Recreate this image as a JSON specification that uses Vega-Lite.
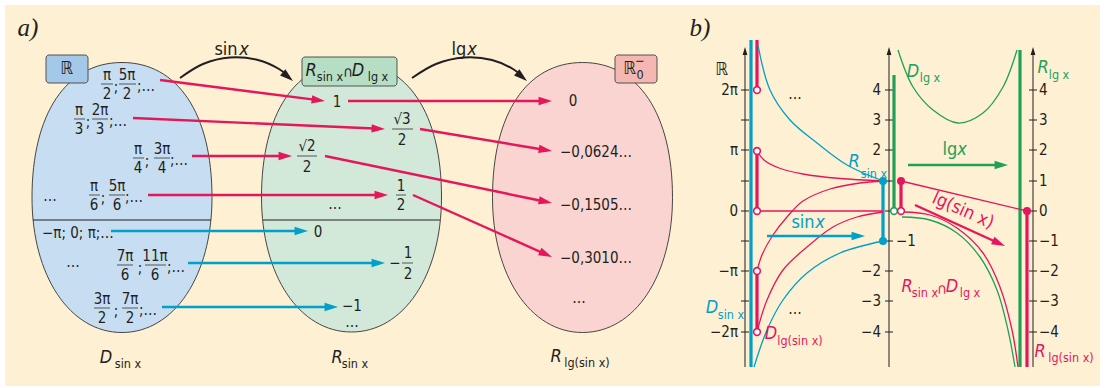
{
"$schema":"https://vega.github.io/schema/vega-lite/v6.json",
"width":1105,"height":388,"padding":0,
"autosize":{"type":"fit","contains":"padding"},
"background":"#ffffff",
"config":{"view":{"stroke":null}},
"datasets":{
"bg":[{"x":5,"y":5,"x2":1100,"y2":386}],
"ell":[{"x":122,"y":197.5,"k":"e1"},{"x":351.5,"y":197,"k":"e2"},{"x":582.5,"y":197.5,"k":"e3"}],
"box":[{"x":46,"y":55,"x2":88,"y2":83,"k":"b1"},{"x":302,"y":57,"x2":397,"y2":86,"k":"b2"},{"x":615,"y":55,"x2":657,"y2":83,"k":"b3"}],
"ink":[{"x":33,"y":220,"x2":211,"y2":220},{"x":263,"y":220,"x2":440,"y2":220},
{"x":745,"y":52,"x2":745,"y2":367},{"x":889,"y":52,"x2":889,"y2":367},{"x":1033,"y":52,"x2":1033,"y2":367},
{"x":741,"y":90,"x2":749,"y2":90},{"x":741,"y":120,"x2":749,"y2":120},{"x":741,"y":150,"x2":749,"y2":150},{"x":741,"y":181,"x2":749,"y2":181},{"x":741,"y":211,"x2":749,"y2":211},{"x":741,"y":241,"x2":749,"y2":241},{"x":741,"y":271,"x2":749,"y2":271},{"x":741,"y":301,"x2":749,"y2":301},{"x":741,"y":332,"x2":749,"y2":332},
{"x":885,"y":90,"x2":893,"y2":90},{"x":885,"y":120,"x2":893,"y2":120},{"x":885,"y":150,"x2":893,"y2":150},{"x":885,"y":181,"x2":893,"y2":181},{"x":885,"y":211,"x2":893,"y2":211},{"x":885,"y":241,"x2":893,"y2":241},{"x":885,"y":271,"x2":893,"y2":271},{"x":885,"y":301,"x2":893,"y2":301},{"x":885,"y":332,"x2":893,"y2":332},
{"x":1029,"y":90,"x2":1037,"y2":90},{"x":1029,"y":120,"x2":1037,"y2":120},{"x":1029,"y":150,"x2":1037,"y2":150},{"x":1029,"y":181,"x2":1037,"y2":181},{"x":1029,"y":211,"x2":1037,"y2":211},{"x":1029,"y":241,"x2":1037,"y2":241},{"x":1029,"y":271,"x2":1037,"y2":271},{"x":1029,"y":301,"x2":1037,"y2":301},{"x":1029,"y":332,"x2":1037,"y2":332}],
"fb":[{"x":101,"x2":113,"y":84},{"x":119,"x2":136,"y":84},{"x":74,"x2":85,"y":119},{"x":92,"x2":108,"y":119},{"x":133,"x2":144,"y":158},{"x":154,"x2":170,"y":158},{"x":89,"x2":100,"y":195},{"x":109,"x2":125,"y":195},{"x":117,"x2":133,"y":265},{"x":145,"x2":166,"y":265},{"x":94,"x2":110,"y":308},{"x":122,"x2":138,"y":308},{"x":392,"x2":413,"y":129},{"x":297,"x2":317,"y":156},{"x":396,"x2":406,"y":195},{"x":402,"x2":413,"y":263}],
"thick":[{"x":751,"y":40,"x2":751,"y2":367,"g":"sin"},{"x":883,"y":181,"x2":883,"y2":241,"g":"sin"},
{"x":757,"y":40,"x2":757,"y2":90,"g":"comp"},{"x":757,"y":151,"x2":757,"y2":211,"g":"comp"},{"x":757,"y":271,"x2":757,"y2":332,"g":"comp"},{"x":901,"y":181,"x2":901,"y2":211,"g":"comp"},{"x":1027,"y":211,"x2":1027,"y2":367,"g":"comp"},
{"x":894,"y":75,"x2":894,"y2":207,"g":"lg"},{"x":1020,"y":50,"x2":1020,"y2":367,"g":"lg"}],
"thin":[{"x":757,"y":211,"x2":883,"y2":211,"g":"comp"},{"x":901,"y":181,"x2":1027,"y2":211,"g":"comp"}],
"shaft":[{"x":160,"y":80,"x2":320,"y2":100.4,"g":"comp"},{"x":133,"y":118,"x2":380,"y2":128.8,"g":"comp"},{"x":192,"y":156,"x2":287,"y2":156,"g":"comp"},{"x":148,"y":195,"x2":383,"y2":195,"g":"comp"},{"x":348,"y":101,"x2":547,"y2":101,"g":"comp"},{"x":420,"y":129,"x2":547.1,"y2":150.2,"g":"comp"},{"x":325,"y":156,"x2":547.1,"y2":202,"g":"comp"},{"x":413,"y":195,"x2":547.4,"y2":255,"g":"comp"},
{"x":111,"y":231,"x2":303,"y2":231,"g":"sin"},{"x":188,"y":263,"x2":380,"y2":263,"g":"sin"},{"x":162,"y":307,"x2":333,"y2":307,"g":"sin"},
{"x":767,"y":236,"x2":860,"y2":236,"g":"sin"},{"x":908,"y":165,"x2":1003,"y2":165,"g":"lg"},{"x":915,"y":205,"x2":1000.5,"y2":244,"g":"comp"}],
"heads":[{"x":325,"y":101,"a":7.25,"g":"comp"},{"x":385,"y":129,"a":2.5,"g":"comp"},{"x":292,"y":156,"a":0,"g":"comp"},{"x":388,"y":195,"a":0,"g":"comp"},{"x":552,"y":101,"a":0,"g":"comp"},{"x":552,"y":151,"a":9.46,"g":"comp"},{"x":552,"y":203,"a":11.7,"g":"comp"},{"x":552,"y":257,"a":24,"g":"comp"},
{"x":308,"y":231,"a":0,"g":"sin"},{"x":385,"y":263,"a":0,"g":"sin"},{"x":338,"y":307,"a":0,"g":"sin"},{"x":865,"y":236,"a":0,"g":"sin"},{"x":1008,"y":165,"a":0,"g":"lg"},{"x":1005,"y":246,"a":24.5,"g":"comp"},
{"x":293,"y":81,"a":40,"g":"ink"},{"x":527,"y":81,"a":40,"g":"ink"}],
"axhead":[{"x":745,"y":47,"a":-90},{"x":889,"y":47,"a":-90},{"x":1033,"y":47,"a":-90}],
"arcs":[{"id":"s","o":1,"x":180,"y":78},{"id":"s","o":2,"x":203,"y":64},{"id":"s","o":3,"x":230,"y":57.5},{"id":"s","o":4,"x":258,"y":60},{"id":"s","o":5,"x":279,"y":69},{"id":"s","o":6,"x":288,"y":76},
{"id":"l","o":1,"x":412,"y":78},{"id":"l","o":2,"x":436,"y":64},{"id":"l","o":3,"x":464,"y":57.5},{"id":"l","o":4,"x":492,"y":60},{"id":"l","o":5,"x":513,"y":69},{"id":"l","o":6,"x":522,"y":76}],
"curves":[
{"id":"bt","o":1,"x":758,"y":45,"g":"sin"},{"id":"bt","o":2,"x":770,"y":90,"g":"sin"},{"id":"bt","o":3,"x":790,"y":120,"g":"sin"},{"id":"bt","o":4,"x":817,"y":143,"g":"sin"},{"id":"bt","o":5,"x":847,"y":165,"g":"sin"},{"id":"bt","o":6,"x":883,"y":181,"g":"sin"},
{"id":"rp","o":1,"x":757,"y":151,"g":"comp"},{"id":"rp","o":2,"x":764,"y":160,"g":"comp"},{"id":"rp","o":3,"x":779,"y":168,"g":"comp"},{"id":"rp","o":4,"x":803,"y":174,"g":"comp"},{"id":"rp","o":5,"x":840,"y":178.5,"g":"comp"},{"id":"rp","o":6,"x":883,"y":181,"g":"comp"},
{"id":"rm","o":1,"x":757,"y":271,"g":"comp"},{"id":"rm","o":2,"x":762,"y":255,"g":"comp"},{"id":"rm","o":3,"x":773,"y":235,"g":"comp"},{"id":"rm","o":4,"x":787,"y":217,"g":"comp"},{"id":"rm","o":5,"x":803,"y":201,"g":"comp"},{"id":"rm","o":6,"x":830,"y":189,"g":"comp"},{"id":"rm","o":7,"x":860,"y":183,"g":"comp"},{"id":"rm","o":8,"x":883,"y":181,"g":"comp"},
{"id":"r2","o":1,"x":757,"y":332,"g":"comp"},{"id":"r2","o":2,"x":767,"y":300,"g":"comp"},{"id":"r2","o":3,"x":783,"y":270,"g":"comp"},{"id":"r2","o":4,"x":807,"y":247,"g":"comp"},{"id":"r2","o":5,"x":833,"y":227,"g":"comp"},{"id":"r2","o":6,"x":857,"y":217,"g":"comp"},{"id":"r2","o":7,"x":883,"y":212,"g":"comp"},
{"id":"bb","o":1,"x":754,"y":367,"g":"sin"},{"id":"bb","o":2,"x":767,"y":330,"g":"sin"},{"id":"bb","o":3,"x":783,"y":300,"g":"sin"},{"id":"bb","o":4,"x":807,"y":273,"g":"sin"},{"id":"bb","o":5,"x":840,"y":253,"g":"sin"},{"id":"bb","o":6,"x":883,"y":241,"g":"sin"},
{"id":"gu","o":1,"x":898,"y":50,"g":"lg"},{"id":"gu","o":2,"x":913,"y":87,"g":"lg"},{"id":"gu","o":3,"x":933,"y":110,"g":"lg"},{"id":"gu","o":4,"x":958,"y":123,"g":"lg"},{"id":"gu","o":5,"x":983,"y":113,"g":"lg"},{"id":"gu","o":6,"x":1003,"y":87,"g":"lg"},{"id":"gu","o":7,"x":1017,"y":50,"g":"lg"},
{"id":"gl","o":1,"x":902,"y":217,"g":"lg"},{"id":"gl","o":2,"x":930,"y":220,"g":"lg"},{"id":"gl","o":3,"x":957,"y":233,"g":"lg"},{"id":"gl","o":4,"x":980,"y":257,"g":"lg"},{"id":"gl","o":5,"x":997,"y":290,"g":"lg"},{"id":"gl","o":6,"x":1008,"y":330,"g":"lg"},{"id":"gl","o":7,"x":1015,"y":367,"g":"lg"},
{"id":"rl","o":1,"x":903,"y":212,"g":"comp"},{"id":"rl","o":2,"x":930,"y":215,"g":"comp"},{"id":"rl","o":3,"x":957,"y":228,"g":"comp"},{"id":"rl","o":4,"x":983,"y":253,"g":"comp"},{"id":"rl","o":5,"x":1000,"y":287,"g":"comp"},{"id":"rl","o":6,"x":1012,"y":330,"g":"comp"},{"id":"rl","o":7,"x":1018,"y":367,"g":"comp"}],
"open":[{"x":757,"y":90,"g":"comp"},{"x":757,"y":151,"g":"comp"},{"x":757,"y":211,"g":"comp"},{"x":757,"y":271,"g":"comp"},{"x":757,"y":332,"g":"comp"},{"x":894,"y":211,"g":"lg"},{"x":901,"y":211,"g":"comp"}],
"dots":[{"x":883,"y":181,"g":"sin"},{"x":883,"y":241,"g":"sin"},{"x":901,"y":181,"g":"comp"},{"x":1027,"y":211,"g":"comp"}],
"tc":[
{"x":107,"y":75,"t":"π","g":"ink"},{"x":107,"y":94,"t":"2","g":"ink"},{"x":116,"y":87,"t":";","g":"ink"},{"x":127,"y":75,"t":"5π","g":"ink"},{"x":127,"y":94,"t":"2","g":"ink"},
{"x":79,"y":110,"t":"π","g":"ink"},{"x":79,"y":129,"t":"3","g":"ink"},{"x":88,"y":122,"t":";","g":"ink"},{"x":100,"y":110,"t":"2π","g":"ink"},{"x":100,"y":129,"t":"3","g":"ink"},
{"x":138,"y":149,"t":"π","g":"ink"},{"x":138,"y":168,"t":"4","g":"ink"},{"x":147,"y":161,"t":";","g":"ink"},{"x":162,"y":149,"t":"3π","g":"ink"},{"x":162,"y":168,"t":"4","g":"ink"},
{"x":94,"y":186,"t":"π","g":"ink"},{"x":94,"y":205,"t":"6","g":"ink"},{"x":103,"y":198,"t":";","g":"ink"},{"x":117,"y":186,"t":"5π","g":"ink"},{"x":117,"y":205,"t":"6","g":"ink"},
{"x":50,"y":196,"t":"…","g":"ink"},
{"x":125,"y":256,"t":"7π","g":"ink"},{"x":125,"y":275,"t":"6","g":"ink"},{"x":140,"y":268,"t":";","g":"ink"},{"x":155,"y":256,"t":"11π","g":"ink"},{"x":155,"y":275,"t":"6","g":"ink"},{"x":73,"y":262,"t":"…","g":"ink"},
{"x":102,"y":299,"t":"3π","g":"ink"},{"x":102,"y":318,"t":"2","g":"ink"},{"x":116,"y":311,"t":";","g":"ink"},{"x":130,"y":299,"t":"7π","g":"ink"},{"x":130,"y":318,"t":"2","g":"ink"},
{"x":337,"y":102,"t":"1","g":"ink"},{"x":402,"y":119,"t":"√3","g":"ink"},{"x":402,"y":140,"t":"2","g":"ink"},{"x":307,"y":146,"t":"√2","g":"ink"},{"x":307,"y":167,"t":"2","g":"ink"},{"x":401,"y":186,"t":"1","g":"ink"},{"x":401,"y":205,"t":"2","g":"ink"},{"x":335,"y":204,"t":"…","g":"ink"},
{"x":318,"y":232,"t":"0","g":"ink"},{"x":395,"y":263,"t":"−","g":"ink"},{"x":408,"y":253,"t":"1","g":"ink"},{"x":408,"y":274,"t":"2","g":"ink"},{"x":352,"y":306,"t":"−1","g":"ink"},{"x":352,"y":322,"t":"…","g":"ink"},
{"x":573,"y":101,"t":"0","g":"ink"},{"x":579,"y":298,"t":"…","g":"ink"},
{"x":348,"y":72,"t":"∩","g":"ink"},
{"x":795,"y":94,"t":"…","g":"ink"},{"x":795,"y":309,"t":"…","g":"ink"},{"x":942,"y":289,"t":"∩","g":"comp"}],
"tl":[
{"x":137,"y":86,"t":";…","g":"ink"},{"x":109,"y":121,"t":";…","g":"ink"},{"x":170,"y":160,"t":";…","g":"ink"},{"x":125,"y":197,"t":";…","g":"ink"},{"x":167,"y":267,"t":";…","g":"ink"},{"x":139,"y":310,"t":";…","g":"ink"},
{"x":42,"y":233,"t":"−π; 0; π;…","g":"ink"},
{"x":560,"y":152,"t":"−0,0624…","g":"ink"},{"x":560,"y":205,"t":"−0,1505…","g":"ink"},{"x":560,"y":258,"t":"−0,3010…","g":"ink"},
{"x":1039,"y":90,"t":"4","g":"ink"},{"x":1039,"y":120,"t":"3","g":"ink"},{"x":1039,"y":150,"t":"2","g":"ink"},{"x":1039,"y":181,"t":"1","g":"ink"},{"x":1039,"y":211,"t":"0","g":"ink"},{"x":1039,"y":241,"t":"−1","g":"ink"},{"x":1039,"y":271,"t":"−2","g":"ink"},{"x":1039,"y":301,"t":"−3","g":"ink"},{"x":1039,"y":332,"t":"−4","g":"ink"},
{"x":896,"y":241,"t":"−1","g":"ink"}],
"tr":[{"x":738,"y":90,"t":"2π","g":"ink"},{"x":738,"y":150,"t":"π","g":"ink"},{"x":738,"y":211,"t":"0","g":"ink"},{"x":738,"y":271,"t":"−π","g":"ink"},{"x":738,"y":332,"t":"−2π","g":"ink"},
{"x":881,"y":90,"t":"4","g":"ink"},{"x":881,"y":120,"t":"3","g":"ink"},{"x":881,"y":150,"t":"2","g":"ink"},{"x":881,"y":271,"t":"−2","g":"ink"},{"x":881,"y":301,"t":"−3","g":"ink"},{"x":881,"y":332,"t":"−4","g":"ink"}],
"big":[{"x":226,"y":50,"t":"sin","g":"ink"},{"x":459,"y":50,"t":"lg","g":"ink"},{"x":803,"y":223,"t":"sin","g":"sin"},{"x":950,"y":150,"t":"lg","g":"lg"},
{"x":67,"y":69,"t":"ℝ","g":"ink"},{"x":630,"y":69,"t":"ℝ","g":"ink"},{"x":722,"y":70,"t":"ℝ","g":"ink"}],
"bigi":[{"x":244,"y":50,"t":"x","g":"ink"},{"x":472,"y":50,"t":"x","g":"ink"},{"x":820,"y":223,"t":"x","g":"sin"},{"x":962,"y":150,"t":"x","g":"lg"},
{"x":311,"y":71,"t":"R","g":"ink"},{"x":358,"y":71,"t":"D","g":"ink"},{"x":106,"y":358,"t":"D","g":"ink"},{"x":337,"y":358,"t":"R","g":"ink"},{"x":556,"y":357,"t":"R","g":"ink"},
{"x":854,"y":162,"t":"R","g":"sin"},{"x":712,"y":308,"t":"D","g":"sin"},{"x":771,"y":334,"t":"D","g":"comp"},{"x":913,"y":72,"t":"D","g":"lg"},{"x":1043,"y":68,"t":"R","g":"lg"},{"x":907,"y":287,"t":"R","g":"comp"},{"x":952,"y":287,"t":"D","g":"comp"},{"x":1040,"y":352,"t":"R","g":"comp"}],
"sub":[{"x":330,"y":77,"t":"sin x","g":"ink"},{"x":378,"y":77,"t":"lg x","g":"ink"},{"x":640,"y":75,"t":"0","g":"ink"},{"x":640,"y":61,"t":"−","g":"ink"},{"x":128,"y":364,"t":"sin x","g":"ink"},{"x":355,"y":364,"t":"sin x","g":"ink"},{"x":587,"y":363,"t":"lg(sin x)","g":"ink"},
{"x":874,"y":174,"t":"sin x","g":"sin"},{"x":731,"y":315,"t":"sin x","g":"sin"},{"x":800,"y":341,"t":"lg(sin x)","g":"comp"},{"x":930,"y":78,"t":"lg x","g":"lg"},{"x":1059,"y":75,"t":"lg x","g":"lg"},{"x":925,"y":293,"t":"sin x","g":"comp"},{"x":970,"y":293,"t":"lg x","g":"comp"},{"x":1071,"y":358,"t":"lg(sin x)","g":"comp"}],
"serif":[{"x":28,"y":28,"t":"a)"},{"x":700,"y":28,"t":"b)"}],
"rot":[{"x":963,"y":211,"t":"lg(sin x)","g":"comp"}]
},
"encoding":{
"x":{"field":"x","type":"quantitative","scale":{"domain":[0,1105],"nice":false,"zero":false},"axis":null},
"y":{"field":"y","type":"quantitative","scale":{"domain":[0,388],"nice":false,"zero":false,"reverse":true},"axis":null}
},
"layer":[
{"data":{"name":"bg"},"mark":{"type":"rect","fill":"#fdf0d3"},"encoding":{"x2":{"field":"x2"},"y2":{"field":"y2"}}},
{"data":{"name":"ell"},"mark":{"type":"point","shape":"M0,-1.5C0.62,-1.5,1,-0.93,1,0C1,0.87,0.58,1.5,0,1.5C-0.58,1.5,-1,0.87,-1,0C-1,-0.93,-0.62,-1.5,0,-1.5Z","size":32400,"filled":true,"opacity":1,"stroke":"#333333","strokeWidth":0.9},
 "encoding":{"fill":{"field":"k","type":"nominal","scale":{"domain":["e1","e2","e3","b1","b2","b3"],"range":["#c7def2","#d2e8d9","#f9d4d0","#a4c8e8","#b5dec4","#f4b7b2"]},"legend":null}}},
{"data":{"name":"box"},"mark":{"type":"rect","cornerRadius":3,"stroke":"#444444","strokeWidth":0.9},
 "encoding":{"x2":{"field":"x2"},"y2":{"field":"y2"},"fill":{"field":"k","type":"nominal","scale":{"domain":["e1","e2","e3","b1","b2","b3"],"range":["#c7def2","#d2e8d9","#f9d4d0","#a4c8e8","#b5dec4","#f4b7b2"]},"legend":null}}},
{"data":{"name":"ink"},"mark":{"type":"rule","color":"#231f20","strokeWidth":1},"encoding":{"x2":{"field":"x2"},"y2":{"field":"y2"}}},
{"data":{"name":"fb"},"mark":{"type":"rule","color":"#555555","strokeWidth":1},"encoding":{"x2":{"field":"x2"}}},
{"data":{"name":"thick"},"mark":{"type":"rule","strokeWidth":3.2},"encoding":{"x2":{"field":"x2"},"y2":{"field":"y2"},"color":{"field":"g","type":"nominal","scale":{"domain":["sin","lg","comp","ink"],"range":["#00a0c8","#22a05a","#e4175b","#231f20"]},"legend":null}}},
{"data":{"name":"curves"},"mark":{"type":"line","strokeWidth":1.3,"interpolate":"catmull-rom"},"encoding":{"detail":{"field":"id"},"order":{"field":"o","type":"quantitative"},"color":{"field":"g","type":"nominal","scale":{"domain":["sin","lg","comp","ink"],"range":["#00a0c8","#22a05a","#e4175b","#231f20"]},"legend":null}}},
{"data":{"name":"arcs"},"mark":{"type":"line","strokeWidth":2,"color":"#231f20","interpolate":"catmull-rom"},"encoding":{"detail":{"field":"id"},"order":{"field":"o","type":"quantitative"}}},
{"data":{"name":"thin"},"mark":{"type":"rule","strokeWidth":1.3},"encoding":{"x2":{"field":"x2"},"y2":{"field":"y2"},"color":{"field":"g","type":"nominal","scale":{"domain":["sin","lg","comp","ink"],"range":["#00a0c8","#22a05a","#e4175b","#231f20"]},"legend":null}}},
{"data":{"name":"shaft"},"mark":{"type":"rule","strokeWidth":2.4},"encoding":{"x2":{"field":"x2"},"y2":{"field":"y2"},"color":{"field":"g","type":"nominal","scale":{"domain":["sin","lg","comp","ink"],"range":["#00a0c8","#22a05a","#e4175b","#231f20"]},"legend":null}}},
{"data":{"name":"heads"},"mark":{"type":"point","shape":"M0,0L-2,-0.62L-2,0.62Z","size":180,"filled":true,"opacity":1,"strokeWidth":0},"encoding":{"angle":{"field":"a","type":"quantitative","scale":null},"color":{"field":"g","type":"nominal","scale":{"domain":["sin","lg","comp","ink"],"range":["#00a0c8","#22a05a","#e4175b","#231f20"]},"legend":null}}},
{"data":{"name":"axhead"},"mark":{"type":"point","shape":"M0,0L-2,-0.6L-2,0.6Z","size":64,"filled":true,"opacity":1,"strokeWidth":0,"color":"#231f20"},"encoding":{"angle":{"field":"a","type":"quantitative","scale":null}}},
{"data":{"name":"open"},"mark":{"type":"point","shape":"circle","size":45,"filled":false,"fill":"#ffffff","opacity":1,"strokeWidth":1.6},"encoding":{"stroke":{"field":"g","type":"nominal","scale":{"domain":["sin","lg","comp","ink"],"range":["#00a0c8","#22a05a","#e4175b","#231f20"]},"legend":null}}},
{"data":{"name":"dots"},"mark":{"type":"point","shape":"circle","size":64,"filled":true,"opacity":1,"strokeWidth":0},"encoding":{"color":{"field":"g","type":"nominal","scale":{"domain":["sin","lg","comp","ink"],"range":["#00a0c8","#22a05a","#e4175b","#231f20"]},"legend":null}}},
{"data":{"name":"tc"},"mark":{"type":"text","font":"Liberation Sans Narrow, DejaVu Sans Condensed, sans-serif","fontSize":15,"align":"center","baseline":"middle"},"encoding":{"text":{"field":"t"},"color":{"field":"g","type":"nominal","scale":{"domain":["sin","lg","comp","ink"],"range":["#00a0c8","#22a05a","#e4175b","#231f20"]},"legend":null}}},
{"data":{"name":"tl"},"mark":{"type":"text","font":"Liberation Sans Narrow, DejaVu Sans Condensed, sans-serif","fontSize":15,"align":"left","baseline":"middle"},"encoding":{"text":{"field":"t"},"color":{"field":"g","type":"nominal","scale":{"domain":["sin","lg","comp","ink"],"range":["#00a0c8","#22a05a","#e4175b","#231f20"]},"legend":null}}},
{"data":{"name":"tr"},"mark":{"type":"text","font":"Liberation Sans Narrow, DejaVu Sans Condensed, sans-serif","fontSize":15,"align":"right","baseline":"middle"},"encoding":{"text":{"field":"t"},"color":{"field":"g","type":"nominal","scale":{"domain":["sin","lg","comp","ink"],"range":["#00a0c8","#22a05a","#e4175b","#231f20"]},"legend":null}}},
{"data":{"name":"big"},"mark":{"type":"text","font":"Liberation Sans Narrow, DejaVu Sans Condensed, sans-serif","fontSize":18,"align":"center","baseline":"middle"},"encoding":{"text":{"field":"t"},"color":{"field":"g","type":"nominal","scale":{"domain":["sin","lg","comp","ink"],"range":["#00a0c8","#22a05a","#e4175b","#231f20"]},"legend":null}}},
{"data":{"name":"bigi"},"mark":{"type":"text","font":"Liberation Sans Narrow, DejaVu Sans Condensed, sans-serif","fontSize":18,"fontStyle":"italic","align":"center","baseline":"middle"},"encoding":{"text":{"field":"t"},"color":{"field":"g","type":"nominal","scale":{"domain":["sin","lg","comp","ink"],"range":["#00a0c8","#22a05a","#e4175b","#231f20"]},"legend":null}}},
{"data":{"name":"sub"},"mark":{"type":"text","font":"Liberation Sans Narrow, DejaVu Sans Condensed, sans-serif","fontSize":12.5,"align":"center","baseline":"middle"},"encoding":{"text":{"field":"t"},"color":{"field":"g","type":"nominal","scale":{"domain":["sin","lg","comp","ink"],"range":["#00a0c8","#22a05a","#e4175b","#231f20"]},"legend":null}}},
{"data":{"name":"rot"},"mark":{"type":"text","font":"Liberation Sans Narrow, DejaVu Sans Condensed, sans-serif","fontSize":18,"angle":24,"align":"center","baseline":"middle"},"encoding":{"text":{"field":"t"},"color":{"field":"g","type":"nominal","scale":{"domain":["sin","lg","comp","ink"],"range":["#00a0c8","#22a05a","#e4175b","#231f20"]},"legend":null}}},
{"data":{"name":"serif"},"mark":{"type":"text","font":"Liberation Serif, DejaVu Serif, serif","fontSize":25,"fontStyle":"italic","align":"center","baseline":"middle","color":"#231f20"},"encoding":{"text":{"field":"t"}}}
]
}
